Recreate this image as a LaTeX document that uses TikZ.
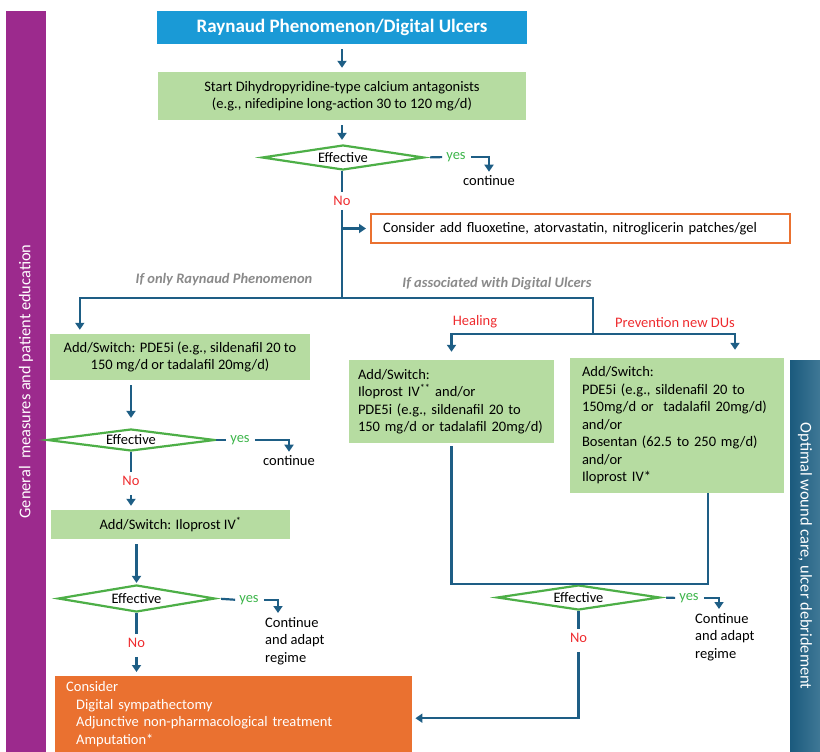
\documentclass[tikz,border=0pt]{standalone}
\usepackage{fontspec}
\setmainfont{Carlito}
\usetikzlibrary{arrows.meta,positioning,shapes.geometric}
\definecolor{barpurple}{HTML}{9C2A8D}
\definecolor{titleblue}{HTML}{1A9AD6}
\definecolor{boxgreen}{HTML}{B6DCA1}
\definecolor{decgreen}{HTML}{4DAF47}
\definecolor{flowblue}{HTML}{1E5E85}
\definecolor{consorange}{HTML}{EA7130}
\definecolor{labelgray}{HTML}{8A8A8A}
\definecolor{nored}{HTML}{EE2B2E}
\definecolor{yesgreen}{HTML}{3DB54A}
\definecolor{bardark}{HTML}{1B5A7D}
\definecolor{barlight}{HTML}{3F7896}
\tikzset{
  titlebox/.style={fill=titleblue,text=white,inner sep=0pt,font=\fontsize{19}{22}\selectfont\bfseries},
  box/.style={fill=boxgreen,inner sep=0pt,align=center},
  lbox/.style={fill=boxgreen,align=left,inner ysep=0pt},
  optbox/.style={draw=consorange,line width=2.2pt,fill=white,inner xsep=12pt,inner ysep=0pt,align=left},
  dec/.style={diamond,aspect=7,draw=decgreen,line width=2.2pt,fill=white,inner sep=0pt,minimum width=162pt,minimum height=25pt},
  ln/.style={draw=flowblue,line width=2.2pt},
  arr/.style={ln,-{Triangle[width=9pt,length=7pt]},shorten <=5pt,shorten >=4pt},
  yeslbl/.style={text=yesgreen,inner sep=0pt},
  nolbl/.style={text=nored,inner sep=4pt},
  branchlbl/.style={text=labelgray,font=\fontsize{14.5}{17}\selectfont\bfseries\itshape},
  note/.style={inner sep=0pt,align=left},
  sidebar/.style={text=white,inner sep=0pt,font=\fontsize{16.4}{19}\selectfont}
}

\begin{document}
\begin{tikzpicture}[x=1pt,y=-1pt,font=\fontsize{14.5}{17.5}\selectfont]
\useasboundingbox (0,0) rectangle (820,752);

% side bars
\node[sidebar,fill=barpurple,minimum width=741pt,minimum height=40pt,rotate=90] (gen) at (26,381.5) {General\ \ measures and patient education};
\node[sidebar,left color=bardark,right color=barlight,minimum width=392pt,minimum height=30pt,rotate=-90] (wound) at (805,556) {Optimal wound care, ulcer debridement};

% main trunk
\node[titlebox,minimum width=370pt,minimum height=33pt] (title) at (342,27.5) {Raynaud Phenomenon/Digital Ulcers};
\node[box,minimum width=368pt,minimum height=48pt] (start) at (342,96) {Start Dihydropyridine-type calcium antagonists\\(e.g., nifedipine long-action 30 to 120 mg/d)};
\node[dec] (d1) at (343,157.5) {Effective};
\node[yeslbl] (y1) at (456,157) {yes};
\node[note] (c1) at (489,181) {continue};
\node[nolbl] (n1) at (342,201) {No};
\node[optbox,text width=395pt,minimum height=29pt,anchor=west] (fluox) at (370,228.5) {Consider add fluoxetine, atorvastatin, nitroglicerin patches/gel};
\coordinate (hub) at (342,298);
\coordinate (split) at (593,334);

\draw[arr] (title) -- (start);
\draw[arr] (start) -- (start |- d1.north);
\draw[ln] (n1 |- d1.south) -- (n1);
\draw[ln,shorten <=5pt,shorten >=4pt] (d1.east) -- (y1.west);
\draw[arr] (y1) -| (c1);
\draw[ln] (n1) -- (hub);
\draw[arr,shorten <=0pt] (n1 |- fluox) -- (fluox);

% branch labels
\node[branchlbl] (lrp) at (224,280) {If only Raynaud Phenomenon};
\node[branchlbl] (ldu) at (497,284) {If associated with Digital Ulcers};
\node[nolbl] (lheal) at (475,322) {Healing};
\node[nolbl] (lprev) at (675,323) {Prevention new DUs};

% only Raynaud
\node[box,minimum width=260pt,minimum height=46pt] (pde) at (180,357) {Add/Switch: PDE5i (e.g., sildenafil 20 to\\150 mg/d or tadalafil 20mg/d)};
\node[dec,minimum width=168pt,minimum height=22pt] (d2) at (131,440) {Effective};
\node[yeslbl] (y2) at (240,440) {yes};
\node[note] (c2) at (289,461) {continue};
\node[nolbl] (n2) at (131,481) {No};
\node[box,minimum width=239pt,minimum height=29pt] (ilo) at (170.5,524.5) {Add/Switch: Iloprost IV\textsuperscript{*}};
\node[dec,minimum width=157pt,minimum height=27pt] (d3) at (136.5,598.5) {Effective};
\node[yeslbl] (y3) at (249,600) {yes};
\node[note,anchor=north west] (c3) at (265,617) {Continue\\and adapt\\regime};
\node[nolbl] (n3) at (136.5,643) {No};
\node[fill=consorange,text=white,anchor=north west,minimum width=357pt,minimum height=76pt,text width=335pt,inner xsep=11pt,inner ysep=0pt,align=left] (cons) at (55,676) {Consider\\\hspace*{10pt}Digital sympathectomy\\\hspace*{10pt}Adjunctive non-pharmacological treatment\\\hspace*{10pt}Amputation*};

\draw[arr,shorten <=0pt] (hub) -| ([xshift=30pt]pde.north west);
\draw[arr,shorten >=10pt] (d2.north |- pde.south) -- (d2);
\draw[ln,shorten <=0pt,shorten >=4pt] (d2.east) -- (y2.west);
\draw[arr] (y2) -| (c2);
\draw[ln] (d2) -- (n2);
\draw[arr] (n2) -- (n2 |- ilo.north);
\draw[arr,shorten >=1pt] (d3.north |- ilo.south) -- (d3);
\draw[ln,shorten <=5pt,shorten >=4pt] (d3.east) -- (y3.west);
\draw[arr] (y3) -| ([xshift=13pt]c3.north west);
\draw[ln] (d3) -- (n3);
\draw[arr] (n3) -- (n3 |- cons.north);

% digital ulcers
\node[lbox,minimum width=205pt,minimum height=83pt,text width=187pt,inner xsep=9pt] (heal) at (451.5,401.5) {Add/Switch:\\Iloprost IV\textsuperscript{**} and/or\\PDE5i (e.g., sildenafil 20 to\\150 mg/d or tadalafil 20mg/d)};
\node[lbox,minimum width=214pt,minimum height=135pt,text width=190pt,inner xsep=12pt] (prev) at (677,425.5) {Add/Switch:\\PDE5i (e.g., sildenafil 20 to\\150mg/d or\ \ tadalafil 20mg/d)\\and/or\\Bosentan (62.5 to 250 mg/d)\\and/or\\Iloprost IV*};
\node[dec,minimum width=163pt] (d4) at (578.5,597.5) {Effective};
\node[yeslbl] (y4) at (689,598) {yes};
\node[note,anchor=north west] (c4) at (695,613) {Continue\\and adapt\\regime};
\node[nolbl] (n4) at (578.5,638) {No};

\draw[ln] (hub) -| (split);
\draw[arr,shorten <=0pt,shorten >=8pt] (split) -| (heal);
\draw[arr,shorten <=0pt,shorten >=8pt] (split) -| ([xshift=58pt]prev.north);
\draw[ln,shorten <=3pt] (heal) |- (d4.north) -| ([xshift=31pt]prev.south);
\draw[ln,shorten <=5pt,shorten >=4pt] (d4.east) -- (y4.west);
\draw[arr] (y4) -| ([xshift=24pt]c4.north west);
\draw[ln] (d4) -- (n4);
\draw[arr,shorten >=3pt] (n4) |- ([yshift=-4pt]cons.east);
\end{tikzpicture}
\end{document}
